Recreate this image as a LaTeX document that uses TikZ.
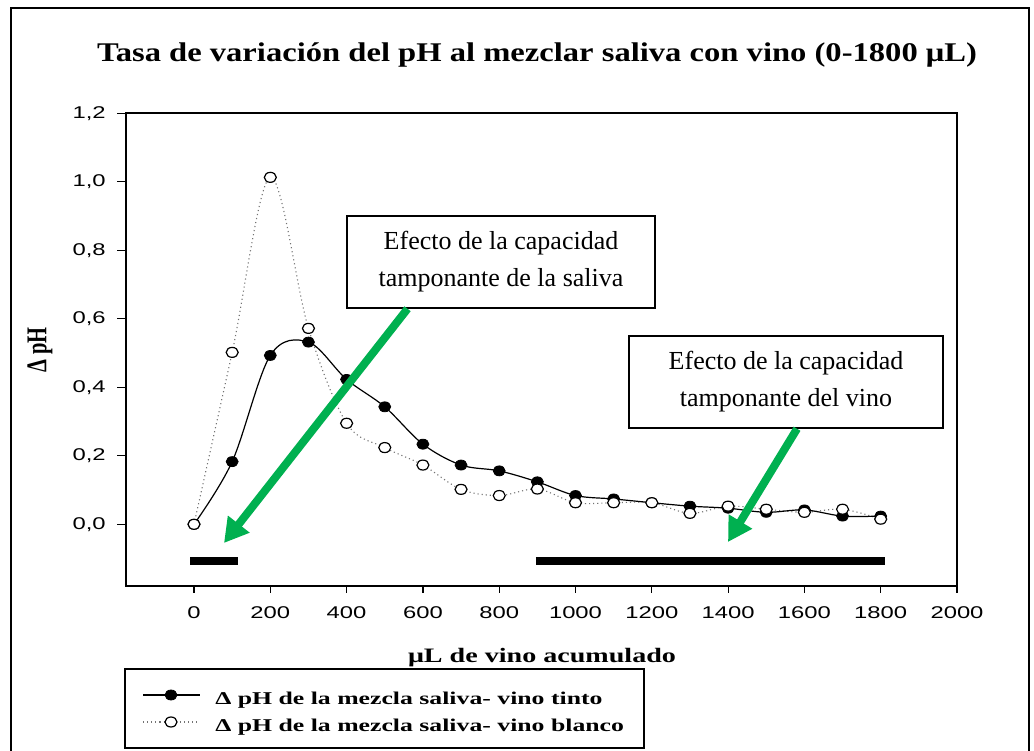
\documentclass[tikz,border=0pt]{standalone}
\usepackage{fontspec}
\setmainfont{Liberation Serif}
\newfontfamily\arialf{Liberation Sans}
\usetikzlibrary{arrows.meta,calc,shapes.geometric}
\definecolor{arrowgreen}{RGB}{0,176,80}
\begin{document}
\begin{tikzpicture}[x=1bp,y=-1bp,
  ticklab/.style={font=\arialf\fontsize{17bp}{20bp}\selectfont, xscale=1.4, inner sep=0pt},
  axisline/.style={line width=1.4bp, line cap=rect},
  tickline/.style={line width=1.2bp},
  fmark/.style={ellipse, fill=black, draw=black, line width=0.8bp, minimum width=12bp, minimum height=10bp, inner sep=0pt},
  omark/.style={ellipse, fill=white, draw=black, line width=1.2bp, minimum width=12bp, minimum height=10bp, inner sep=0pt},
  tintoline/.style={line width=1.2bp, black},
  blancoline/.style={line width=1.1bp, black!55, dash pattern=on 1.1bp off 3bp},
  bar/.style={line width=8bp},
  greenarrow/.style={line width=8bp, arrowgreen, -{Triangle[width=26bp,length=24bp]}},
  annot/.style={draw, line width=1.5bp, fill=white, align=center, font=\fontsize{26bp}{37bp}\selectfont, inner sep=0pt},
  boldlab/.style={font=\bfseries\fontsize{20.5bp}{24bp}\selectfont, inner sep=0pt},
  legtext/.style={font=\bfseries\fontsize{18bp}{22bp}\selectfont, inner sep=0pt, anchor=base west, xscale=1.43}
]
\useasboundingbox (0,0) rectangle (1034,751);
\clip (0,0) rectangle (1034,751);
\fill[white] (0,0) rectangle (1034,751);
% outer frame
\draw[line width=2.6bp] (11,8) rectangle (1029,800);
% title
\node[font=\bfseries\fontsize{27bp}{30bp}\selectfont, anchor=base, inner sep=0pt, xscale=1.207] (title) at (537,62) {Tasa de variación del pH al mezclar saliva con vino (0-1800 μL)};
% axes frame
\coordinate (ptl) at (126,113);
\coordinate (pbr) at (957,586);
\draw[axisline] (ptl) rectangle (pbr);
% y ticks
\foreach \v/\l [count=\i] in {0/{0,0},0.2/{0,2},0.4/{0,4},0.6/{0,6},0.8/{0,8},1.0/{1,0},1.2/{1,2}} {
  \pgfmathsetmacro{\yy}{524.3-342.5*\v}
  \draw[tickline] (126,\yy) -- (117,\yy);
  \node[ticklab, anchor=east] (yl\i) at (106,\yy) {\l};
}
% x ticks
\foreach \v [count=\i] in {0,200,...,2000} {
  \pgfmathsetmacro{\xx}{194+0.3815*\v}
  \draw[tickline] (\xx,586) -- (\xx,593);
  \node[ticklab] (xl\i) at (\xx,613) {\v};
}
% axis labels
\node[boldlab, anchor=base, xscale=1.37] (xlab) at (542,662) {μL de vino acumulado};
\node[boldlab, xscale=1.4, rotate=90] (ylab) at (40,350) {Δ pH};
% data
\begin{scope}[shift={(194,524.3)}, xscale=0.3815, yscale=-342.5]
  \draw[bar] (-10,-0.107) -- (115,-0.107);
  \draw[bar] (896,-0.107) -- (1810,-0.107);
  \draw[blancoline] plot[smooth, tension=0.55] coordinates {(0,0) (100,0.502) (200,1.013) (300,0.572) (400,0.295) (500,0.224) (600,0.173) (700,0.102) (800,0.084) (900,0.103) (1000,0.063) (1100,0.063) (1200,0.063) (1300,0.032) (1400,0.053) (1500,0.044) (1600,0.035) (1700,0.044) (1800,0.015)};
  \draw[tintoline] plot[smooth, tension=0.55] coordinates {(0,0) (100,0.183) (200,0.493) (300,0.532) (400,0.423) (500,0.343) (600,0.234) (700,0.173) (800,0.156) (900,0.124) (1000,0.084) (1100,0.074) (1200,0.063) (1300,0.053) (1400,0.047) (1500,0.035) (1600,0.042) (1700,0.024) (1800,0.024)};
  \foreach \px/\py [count=\i] in {0/0, 100/0.183, 200/0.493, 300/0.532, 400/0.423, 500/0.343, 600/0.234, 700/0.173, 800/0.156, 900/0.124, 1000/0.084, 1100/0.074, 1200/0.063, 1300/0.053, 1400/0.047, 1500/0.035, 1600/0.042, 1700/0.024, 1800/0.024}
    \node[fmark] (t\i) at (\px,\py) {};
  \foreach \px/\py [count=\i] in {0/0, 100/0.502, 200/1.013, 300/0.572, 400/0.295, 500/0.224, 600/0.173, 700/0.102, 800/0.084, 900/0.103, 1000/0.063, 1100/0.063, 1200/0.063, 1300/0.032, 1400/0.053, 1500/0.044, 1600/0.035, 1700/0.044, 1800/0.015}
    \node[omark] (w\i) at (\px,\py) {};
\end{scope}
% annotations
\node[annot, minimum width=308bp, minimum height=92bp] (b1) at (501,262) {Efecto de la capacidad\\tamponante de la saliva};
\node[annot, minimum width=314bp, minimum height=92bp] (b2) at (786,382) {Efecto de la capacidad\\tamponante del vino};
\coordinate (tip1) at (224,543);
\coordinate (tip2) at (728,542);
\draw[greenarrow] ($(b1.south west)!0.198!(b1.south east)$) -- (tip1);
\draw[greenarrow] ($(b2.south west)!0.535!(b2.south east)$) -- (tip2);
% legend
\node[draw, line width=1.5bp, minimum width=519bp, minimum height=79bp, inner sep=0pt] (leg) at (384.5,708.5) {};
\coordinate (l1a) at (143,695);
\coordinate (l1b) at (200,695);
\coordinate (l2a) at (143,722);
\coordinate (l2b) at (200,722);
\draw[tintoline] (l1a) -- (l1b);
\node[fmark] (lm1) at (171,695) {};
\draw[blancoline] (l2a) -- (l2b);
\node[omark] (lm2) at (171,722) {};
\node[legtext] (lt1) at (215,704) {Δ pH de la mezcla saliva- vino tinto};
\node[legtext] (lt2) at (215,731) {Δ pH de la mezcla saliva- vino blanco};
\end{tikzpicture}
\end{document}
